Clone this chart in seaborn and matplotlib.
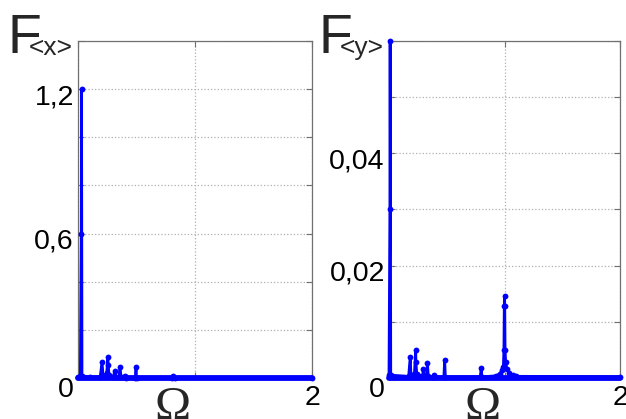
import numpy as np
import pandas as pd
import matplotlib
matplotlib.use("Agg")
import matplotlib.pyplot as plt
import seaborn as sns
from matplotlib.transforms import ScaledTranslation

# ---- data ----
omega_x = [0.00, 0.020, 0.028, 0.030, 0.034, 0.10, 0.19, 0.205, 0.215, 0.245, 0.256, 0.258,
           0.265, 0.30, 0.316, 0.325, 0.35, 0.359, 0.368, 0.395, 0.40, 0.41, 0.49, 0.496,
           0.50, 0.80, 0.812, 0.825, 2.00]
amp_x = [0.005, 0.010, 0.60, 1.20, 0.010, 0.003, 0.005, 0.066, 0.008, 0.020, 0.088, 0.054,
         0.012, 0.004, 0.030, 0.004, 0.004, 0.046, 0.004, 0.003, 0.010, 0.002, 0.002, 0.046,
         0.002, 0.002, 0.010, 0.002, 0.001]

omega_y = [0.000, 0.008, 0.010, 0.015, 0.17, 0.184, 0.19, 0.22, 0.231, 0.233, 0.24, 0.29,
           0.298, 0.305, 0.325, 0.333, 0.34, 0.38, 0.386, 0.39, 0.475, 0.482, 0.488, 0.79,
           0.798, 0.805, 0.93, 0.96, 0.98, 0.99, 0.995, 0.998, 1.000, 1.002, 1.005, 1.01,
           1.02, 1.04, 1.07, 1.10, 2.00]
amp_y = [0.0005, 0.030, 0.060, 0.0005, 0.0003, 0.0038, 0.0004, 0.0008, 0.0049, 0.0029, 0.0008,
         0.0003, 0.0016, 0.0003, 0.0003, 0.0027, 0.0003, 0.0002, 0.0005, 0.0002, 0.0002, 0.0032,
         0.0002, 0.0002, 0.0017, 0.0002, 0.0004, 0.0008, 0.0014, 0.0020, 0.0049, 0.0128, 0.0146,
         0.0128, 0.0049, 0.0029, 0.0016, 0.0009, 0.0005, 0.0003, 0.0002]

x_ticks = [0, 1, 2]
x_ticklabels = ["", "", "2"]
yx_ticks = [0, 0.2, 0.4, 0.6, 0.8, 1.0, 1.2, 1.4]
yx_labels = ["0", "", "", "0,6", "", "", "1,2", ""]
yy_ticks = [0, 0.01, 0.02, 0.03, 0.04, 0.05, 0.06]
yy_labels = ["0", "", "0,02", "", "0,04", "", ""]

sns.set_style("white")
plt.rcParams["font.family"] = ["Liberation Sans", "DejaVu Sans"]

W, H = 626, 419
fig = plt.figure(figsize=(W / 100, H / 100), dpi=100)


def box(l, t, r, b):
    return [l / W, 1 - b / H, (r - l) / W, (b - t) / H]


ax1 = fig.add_axes(box(78, 41, 312, 378))
ax2 = fig.add_axes(box(389, 41, 620, 378))

BLUE = "#0000ff"
panels = [
    (ax1, omega_x, amp_x, yx_ticks, yx_labels, 1.4),
    (ax2, omega_y, amp_y, yy_ticks, yy_labels, 0.06),
]
for ax, om, am, yt, yl, ytop in panels:
    df = pd.DataFrame({"omega": om, "amp": am})
    ax.axhline(0, color=BLUE, lw=4.2, clip_on=False, zorder=3)
    sns.lineplot(data=df, x="omega", y="amp", ax=ax, estimator=None, sort=False,
                 color=BLUE, lw=2.0, marker="o", markersize=4.2, markeredgewidth=0,
                 clip_on=False, zorder=4)
    ax.set_xlim(0, 2)
    ax.set_ylim(0, ytop)
    ax.set_xticks(x_ticks)
    ax.set_xticklabels(x_ticklabels)
    ax.set_yticks(yt)
    ax.set_yticklabels(yl)
    ax.set_ylabel("")
    ax.grid(True, linestyle=":", color="#b0b0b0", lw=0.9)
    ax.set_axisbelow(True)
    for s in ax.spines.values():
        s.set_color("#707070")
        s.set_linewidth(0.9)
    ax.tick_params(direction="in", length=4, width=0.8, color="#707070",
                   left=True, right=True, top=True, bottom=True,
                   labelsize=20.5, labelcolor="black")
    ax.tick_params(axis="y", pad=3)
    ax.tick_params(axis="x", pad=5)
    for i, lab in enumerate(ax.get_yticklabels()):
        dy = -9 if i == 0 else -5
        lab.set_transform(lab.get_transform() + ScaledTranslation(0, dy / 100, fig.dpi_scale_trans))
    ax.set_xlabel("Ω", fontfamily="Liberation Serif", fontsize=35)
    ax.xaxis.set_label_coords(0.405, -0.023)

# big axis titles F<x>, F<y>
fig.text(7.5 / W, 1 - 53 / H, "F", fontsize=40, ha="left", va="baseline")
fig.text(29 / W, 1 - 55 / H, "<x>", fontsize=19, ha="left", va="baseline")
fig.text(318.5 / W, 1 - 53 / H, "F", fontsize=40, ha="left", va="baseline")
fig.text(340 / W, 1 - 55 / H, "<y>", fontsize=19, ha="left", va="baseline")

fig.savefig("out.png", dpi=100)
